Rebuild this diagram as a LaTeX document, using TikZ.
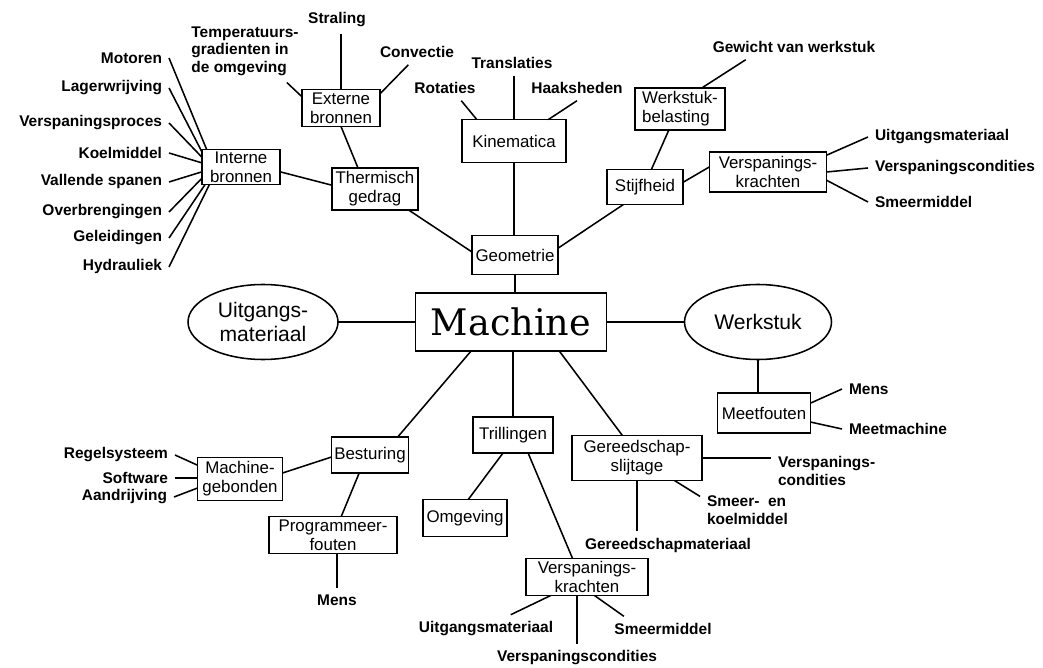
\documentclass[tikz,border=0pt]{standalone}
\usepackage{fontspec}
\setsansfont{Liberation Sans}
\newfontfamily\machfont{DejaVu Serif}
\usetikzlibrary{shapes.geometric}

\begin{document}
\begin{tikzpicture}[x=0.025cm,y=-0.025cm,inner sep=0pt,outer sep=0pt,line width=1.1pt,
blok/.style={draw,rectangle,align=center,font=\sffamily\fontsize{12}{13.5}\selectfont},
maat/.style 2 args={minimum width=#1*0.025cm,minimum height=#2*0.025cm},
ovaal/.style={draw,ellipse,align=center,font=\sffamily\fontsize{15}{16.5}\selectfont},
blad/.style={inner sep=5pt,font=\sffamily\bfseries\fontsize{11}{12.5}\selectfont}]

\useasboundingbox (0,0) rectangle (1043,668);

% centrale knoop
\draw (511,322) node[blok,maat={191}{58},font=\machfont\fontsize{26}{30}\selectfont] (machine) {Machine};
\draw (263,322) node[ovaal,maat={150}{75}] (uitgmat) {Uitgangs-\\materiaal};
\draw (758,322) node[ovaal,maat={147}{75}] (werkstuk) {Werkstuk};

% geometrie
\draw (515,255) node[blok,maat={86}{39}] (geometrie) {Geometrie};
\draw (375,189) node[blok,maat={86}{42}] (thermisch) {Thermisch\\gedrag};
\draw (241,167) node[blok,maat={78}{35}] (interne) {Interne\\bronnen};
\draw (341,108) node[blok,maat={78}{37}] (externe) {Externe\\bronnen};
\draw (514,141) node[blok,maat={104}{43}] (kinematica) {Kinematica};
\draw (645,187) node[blok,maat={76}{35}] (stijfheid) {Stijfheid};
\draw (680,109) node[blok,maat={90}{42},align=left] (werkstukbel) {Werkstuk-\\belasting};
\draw (768,172) node[blok,maat={117}{40}] (verspkr1) {Verspanings-\\krachten};

\draw (245,51) node[blad,align=left] (temp) {Temperatuurs-\\gradienten in\\de omgeving};
\draw (337,20) node[blad] (straling) {Straling};
\draw (417,52) node[blad] (convectie) {Convectie};
\draw (169,58) node[blad,anchor=east] (motoren) {Motoren};
\draw (169,88) node[blad,anchor=east] (lager) {Lagerwrijving};
\draw (169,123) node[blad,anchor=east] (proces) {Verspaningsproces};
\draw (169,153) node[blad,anchor=east] (koel) {Koelmiddel};
\draw (169,182) node[blad,anchor=east] (spanen) {Vallende spanen};
\draw (169,212) node[blad,anchor=east] (overbr) {Overbrengingen};
\draw (169,238) node[blad,anchor=east] (geleid) {Geleidingen};
\draw (169,267) node[blad,anchor=east] (hydr) {Hydrauliek};
\draw (512,63) node[blad] (translaties) {Translaties};
\draw (445,88) node[blad] (rotaties) {Rotaties};
\draw (577,88) node[blad] (haaksheden) {Haaksheden};
\draw (794,47) node[blad] (gewicht) {Gewicht van werkstuk};
\draw (868,137) node[blad,anchor=west] (uitg1) {Uitgangsmateriaal};
\draw (868,168) node[blad,anchor=west] (verspc1) {Verspaningscondities};
\draw (868,202) node[blad,anchor=west] (smeer1) {Smeermiddel};

% meetfouten
\draw (764,413) node[blok,maat={93}{40}] (meetfouten) {Meetfouten};
\draw (842,389) node[blad,anchor=west] (mens1) {Mens};
\draw (842,429) node[blad,anchor=west] (meetmachine) {Meetmachine};

% besturing
\draw (370,455) node[blok,maat={77}{36}] (besturing) {Besturing};
\draw (240,479) node[blok,maat={85}{43}] (machgeb) {Machine-\\gebonden};
\draw (333,535) node[blok,maat={128}{37}] (progfout) {Programmeer-\\fouten};
\draw (175,455) node[blad,anchor=east] (regel) {Regelsysteem};
\draw (175,478) node[blad,anchor=east] (software) {Software};
\draw (174,497) node[blad,anchor=east] (aandrijving) {Aandrijving};
\draw (337,600) node[blad] (mens2) {Mens};

% trillingen
\draw (513,435) node[blok,maat={80}{36}] (trillingen) {Trillingen};
\draw (465,518) node[blok,maat={84}{37}] (omgeving) {Omgeving};
\draw (587,577) node[blok,maat={122}{37}] (verspkr2) {Verspanings-\\krachten};
\draw (486,629) node[blad] (uitg2) {Uitgangsmateriaal};
\draw (663,629) node[blad] (smeer2) {Smeermiddel};
\draw (577,658) node[blad] (verspc2) {Verspaningscondities};

% gereedschapslijtage
\draw (637,458) node[blok,maat={130}{45}] (gereedschap) {Gereedschap-\\slijtage};
\draw (668,545) node[blad] (gmat) {Gereedschapmateriaal};
\draw (771,471) node[blad,anchor=west,align=left] (verspc3) {Verspanings-\\condities};
\draw (700,510) node[blad,anchor=west,align=left] (smeerkoel) {Smeer- \ en\\koelmiddel};

% verbindingen
\draw (uitgmat.east) -- (machine.west);
\draw (machine.east) -- (werkstuk.west);
\draw (geometrie.south) -- (geometrie.south |- machine.north);
\draw (kinematica.south) -- (kinematica.south |- geometrie.north);
\draw (thermisch.-32) -- (geometrie.176);
\draw (interne.-7) -- (thermisch.175);
\draw (externe.south) -- (thermisch.129);
\draw (temp.-37) -- (externe.164);
\draw (straling.south -| externe.north) -- (externe.north);
\draw (convectie.-124) -- (externe.20);
\foreach \n/\a in {motoren/153,lager/159,proces/166,koel/174,spanen/187,overbr/196,geleid/206,hydr/209}
  \draw (\n.east) -- (interne.\a);
\draw (kinematica.north) -- (kinematica.north |- translaties.south);
\draw (rotaties.-38) -- (kinematica.150);
\draw (haaksheden.south) -- (kinematica.32);
\draw (geometrie.9) -- (stijfheid.219);
\draw (stijfheid.70) -- (werkstukbel.242);
\draw ([xshift=1cm]gewicht.south west) -- (werkstukbel.44);
\draw (stijfheid.7) -- (verspkr1.175);
\draw (verspkr1.16) -- (uitg1.west);
\draw (verspkr1.east) -- (verspc1.west);
\draw (verspkr1.-8) -- (smeer1.west);

\draw (werkstuk.south) -- (werkstuk.south |- meetfouten.north);
\draw (meetfouten.12) -- (mens1.west);
\draw (meetfouten.-11) -- (meetmachine.west);

\draw (machine.216) -- (besturing.33);
\draw (besturing.183) -- (machgeb.8);
\draw (regel.east) -- (machgeb.162);
\draw (software.east) -- (software.east -| machgeb.west);
\draw (aandrijving.east) -- (machgeb.192);
\draw (besturing.239) -- (progfout.66);
\draw (mens2.north) -- (mens2.north |- progfout.south);

\draw (trillingen.north |- machine.south) -- (trillingen.north);
\draw (trillingen.241) -- (omgeving.80);
\draw (trillingen.-50) -- (verspkr2.128);
\draw (verspkr2.207) -- (uitg2.30);
\draw (verspkr2.-68) -- (smeer2.162);
\draw (verspc2.north) -- (verspc2.north |- verspkr2.south);

\draw (machine.-31) -- (gereedschap.123);
\draw (gereedschap.south) -- (gereedschap.south |- gmat.north);
\draw (gereedschap.east) -- (gereedschap.east -| verspc3.west);
\draw (gereedschap.-31) -- (smeerkoel.164);
\end{tikzpicture}
\end{document}
